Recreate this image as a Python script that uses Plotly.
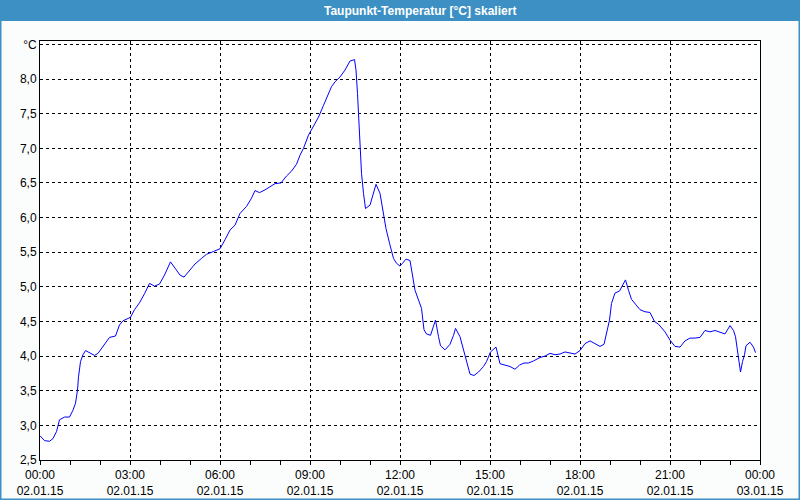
import datetime as dt
import plotly.graph_objects as go

# ---- data (minutes after 02.01.15 00:00, dew point in °C) ----
minutes = [0, 9, 19, 26, 33, 39, 49, 59, 66, 71, 75, 77, 81, 86, 91, 99, 109, 116, 126, 139,
           151, 159, 166, 176, 181, 189, 199, 209, 219, 229, 239, 249, 261, 270, 280, 288, 297,
           310, 323, 333, 347, 360, 370, 380, 390, 400, 413, 423, 430, 439, 450, 460, 470, 482,
           493, 503, 513, 520, 527, 537, 547, 557, 567, 577, 583, 590, 600, 610, 620, 629, 632,
           635, 637, 640, 641, 643, 647, 651, 660, 665, 672, 680, 685, 692, 699, 707, 713, 720,
           725, 732, 740, 745, 750, 757, 763, 768, 773, 781, 787, 791, 797, 801, 810, 820, 827,
           831, 840, 848, 853, 860, 868, 877, 887, 893, 901, 907, 912, 920, 930, 940, 950, 959,
           968, 977, 987, 1000, 1010, 1020, 1030, 1040, 1050, 1060, 1070, 1080, 1090, 1100, 1110,
           1120, 1128, 1133, 1139, 1143, 1150, 1159, 1165, 1171, 1177, 1183, 1192, 1200, 1210,
           1220, 1229, 1237, 1250, 1260, 1270, 1280, 1290, 1300, 1310, 1320, 1330, 1340, 1350,
           1360, 1370, 1380, 1387, 1391, 1395, 1399, 1401, 1405, 1409, 1412, 1420, 1427, 1431]
values = [2.85, 2.78, 2.77, 2.81, 2.91, 3.08, 3.12, 3.12, 3.22, 3.32, 3.51, 3.70, 3.92, 4.02, 4.08,
          4.05, 4.01, 4.04, 4.14, 4.27, 4.29, 4.45, 4.51, 4.54, 4.56, 4.67, 4.77, 4.90, 5.05, 5.01,
          5.04, 5.17, 5.36, 5.27, 5.17, 5.14, 5.22, 5.33, 5.41, 5.47, 5.51, 5.55, 5.68, 5.82, 5.89,
          6.06, 6.16, 6.28, 6.39, 6.36, 6.40, 6.44, 6.49, 6.50, 6.60, 6.67, 6.77, 6.90, 7.00, 7.19,
          7.31, 7.45, 7.62, 7.79, 7.89, 7.96, 8.03, 8.13, 8.26, 8.28, 8.13, 7.79, 7.50, 7.17, 6.88,
          6.64, 6.35, 6.13, 6.18, 6.32, 6.48, 6.35, 6.11, 5.84, 5.63, 5.41, 5.34, 5.30, 5.34, 5.40,
          5.38, 5.19, 4.95, 4.81, 4.69, 4.38, 4.32, 4.30, 4.42, 4.52, 4.28, 4.15, 4.09, 4.17, 4.30,
          4.40, 4.28, 4.07, 3.90, 3.74, 3.72, 3.77, 3.85, 3.92, 4.06, 4.10, 4.13, 3.89, 3.87, 3.85,
          3.81, 3.87, 3.90, 3.90, 3.93, 3.98, 4.00, 4.04, 4.02, 4.03, 4.06, 4.04, 4.03, 4.08, 4.18,
          4.22, 4.18, 4.14, 4.17, 4.33, 4.52, 4.76, 4.91, 4.94, 5.03, 5.10, 4.95, 4.82, 4.74, 4.67,
          4.64, 4.63, 4.50, 4.46, 4.35, 4.23, 4.14, 4.13, 4.22, 4.26, 4.26, 4.27, 4.37, 4.35, 4.37,
          4.35, 4.32, 4.44, 4.37, 4.28, 4.09, 3.90, 3.77, 3.92, 4.02, 4.15, 4.20, 4.13, 4.05]

x_tick_hours = [0, 3, 6, 9, 12, 15, 18, 21, 24]
x_tick_text = ["00:00<br>02.01.15", "03:00<br>02.01.15", "06:00<br>02.01.15",
               "09:00<br>02.01.15", "12:00<br>02.01.15", "15:00<br>02.01.15",
               "18:00<br>02.01.15", "21:00<br>02.01.15", "00:00<br>03.01.15"]
y_tick_vals = [2.5, 3.0, 3.5, 4.0, 4.5, 5.0, 5.5, 6.0, 6.5, 7.0, 7.5, 8.0, 8.5]
y_tick_text = ["2,5", "3,0", "3,5", "4,0", "4,5", "5,0", "5,5", "6,0", "6,5", "7,0",
               "7,5", "8,0", "°C"]
title_text = "Taupunkt-Temperatur [°C] skaliert"

start = dt.datetime(2015, 1, 2)
times = [start + dt.timedelta(minutes=m) for m in minutes]
tick_times = [start + dt.timedelta(hours=h) for h in x_tick_hours]

W, H = 800, 500
ML, MR, MT, MB = 40, 40, 41, 40
PW, PH = W - ML - MR, H - MT - MB


def px_x(p):
    return (p - ML) / PW


def px_y(p):
    return (H - MB - p) / PH


BLUE = "#3d90c4"

fig = go.Figure()
fig.add_trace(go.Scatter(x=times, y=values, mode="lines",
                         line=dict(color="#0000ff", width=1), hoverinfo="skip"))

fig.update_layout(
    width=W, height=H,
    margin=dict(l=ML, r=MR, t=MT, b=MB, pad=0),
    paper_bgcolor="#fbfdfd",
    plot_bgcolor="#ffffff",
    showlegend=False,
    font=dict(family="Liberation Sans, Arial, sans-serif", size=12, color="#000000"),
    xaxis=dict(
        type="date", automargin=False,
        range=[tick_times[0], tick_times[-1]],
        tickvals=tick_times, ticktext=x_tick_text,
        showgrid=True, gridcolor="#000000", gridwidth=1, griddash="3px,3px",
        showline=True, linecolor="#000000", linewidth=1, mirror=True,
        ticks="outside", ticklen=4, tickcolor="#000000",
        minor=dict(dtick=3600000, ticks="outside", ticklen=4, tickcolor="#000000",
                   showgrid=False),
        zeroline=False, fixedrange=True,
    ),
    yaxis=dict(
        automargin=False,
        range=[2.5, 8.549],
        tickvals=y_tick_vals, ticktext=y_tick_text,
        showgrid=True, gridcolor="#000000", gridwidth=1, griddash="3px,3px",
        showline=True, linecolor="#000000", linewidth=1, mirror=True,
        ticks="", zeroline=False, fixedrange=True,
    ),
    shapes=[
        dict(type="rect", xref="paper", yref="paper",
             x0=px_x(0), x1=px_x(W), y0=px_y(21), y1=px_y(0),
             fillcolor=BLUE, line=dict(width=0), layer="below"),
        dict(type="rect", xref="paper", yref="paper",
             x0=px_x(0), x1=px_x(W), y0=px_y(H), y1=px_y(0),
             fillcolor="rgba(0,0,0,0)", line=dict(color=BLUE, width=3)),
    ],
    annotations=[
        dict(text="<b>" + title_text + "</b>", xref="paper", yref="paper",
             x=px_x(420), y=px_y(10.5), xanchor="center", yanchor="middle",
             showarrow=False, font=dict(color="#ffffff", size=12,
                                        family="Liberation Sans, Arial, sans-serif")),
    ],
)

fig.write_html("out.html", config={"displayModeBar": False})
